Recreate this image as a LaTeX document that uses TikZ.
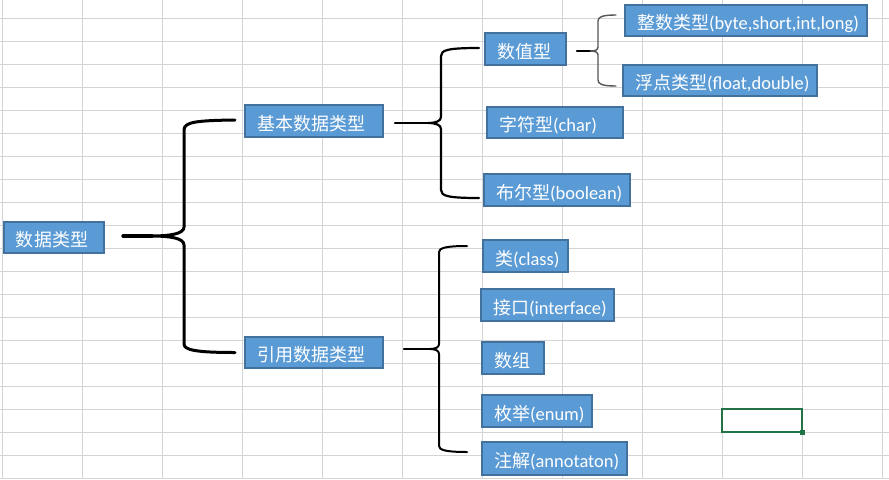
\documentclass[tikz,border=0pt]{standalone}
\usepackage{fontspec}
\setmainfont{Carlito}
\newfontfamily\cjk[Scale=0.975]{Noto Sans CJK SC}
\usetikzlibrary{calc}
\newlength\pxu \setlength\pxu{0.75pt}
\newcommand\boxtxt[2]{\makebox[#1\pxu][l]{#2}}
\definecolor{boxfill}{HTML}{5B9BD5}
\definecolor{boxline}{HTML}{41719C}
\definecolor{gridc}{HTML}{D4D4D4}
\definecolor{selc}{HTML}{217346}
\definecolor{thinbrace}{HTML}{555555}
\begin{document}
\begin{tikzpicture}[x=1\pxu,y=-1\pxu,
  box/.style={draw=boxline, fill=boxfill, line width=2\pxu, inner xsep=12\pxu, inner ysep=0pt,
    text=white, font=\fontsize{13.85}{16}\selectfont, anchor=center,
    text height=18\pxu, text depth=0pt},
  gridline/.style={draw=gridc, line width=1\pxu},
  brc/.style={draw=black, line cap=round, line join=round}]
\useasboundingbox (0,0) rectangle (889,479);
\fill[white] (0,0) rectangle (889,479);
\foreach \i in {0,...,11} \draw[gridline] (2+80*\i,0) -- (2+80*\i,479);
\foreach \j in {0,...,20} \draw[gridline] (0,18+23*\j) -- (889,18+23*\j);

% boxes
\node[box, minimum width=100\pxu, minimum height=31\pxu] (dt) at (54,237.5) {\boxtxt{76}{\cjk 数据类型}};
\node[box, minimum width=138\pxu, minimum height=32\pxu] (jb) at (314,121) {\boxtxt{114}{\cjk 基本数据类型}};
\node[box, minimum width=138\pxu, minimum height=31\pxu] (yy) at (314,352.5) {\boxtxt{114}{\cjk 引用数据类型}};
\node[box, minimum width=81\pxu, minimum height=32\pxu] (sz) at (525.5,49) {\boxtxt{57}{\cjk 数值型}};
\node[box, minimum width=242\pxu, minimum height=31\pxu] (zs) at (746,20.5) {\boxtxt{218}{{\cjk 整数类型}(byte,short,int,long)}};
\node[box, minimum width=194\pxu, minimum height=31\pxu] (fd) at (720,80.5) {\boxtxt{170}{{\cjk 浮点类型}(float,double)}};
\node[box, minimum width=136\pxu, minimum height=31\pxu] (zf) at (555,122.5) {\boxtxt{112}{{\cjk 字符型}(char)}};
\node[box, minimum width=146\pxu, minimum height=32\pxu] (be) at (557,190) {\boxtxt{122}{{\cjk 布尔型}(boolean)}};
\node[box, minimum width=85\pxu, minimum height=32\pxu] (cl) at (525.5,256) {\boxtxt{61}{{\cjk 类}(class)}};
\node[box, minimum width=133\pxu, minimum height=32\pxu] (jk) at (547.5,305) {\boxtxt{109}{{\cjk 接口}(interface)}};
\node[box, minimum width=62\pxu, minimum height=32\pxu] (sg) at (513,358) {\boxtxt{38}{\cjk 数组}};
\node[box, minimum width=110\pxu, minimum height=32\pxu] (mj) at (537,411) {\boxtxt{86}{{\cjk 枚举}(enum)}};
\node[box, minimum width=145\pxu, minimum height=33\pxu] (zj) at (554.5,458.5) {\boxtxt{121}{{\cjk 注解}(annotaton)}};

% brace 1: 数据类型 -> 基本 / 引用
\draw[brc, line width=3.4\pxu] ($(dt.east)+(18,-1.5)$) -- (152,236);
\draw[brc, line width=3\pxu] ($(jb.west)+(-9,-1)$) .. controls (196,120.5) and (184,122) .. (184,130)
  -- (184,227) .. controls (184,234) and (170,236) .. (150,236)
  .. controls (170,236) and (184,238) .. (184,245)
  -- (184,344) .. controls (184,350) and (196,352.5) .. ($(yy.west)+(-9,0)$);

% brace 2: 基本数据类型 -> 数值型 / 字符型 / 布尔型
\draw[brc, line width=2.6\pxu] ($(jb.east)+(11,2)$) -- (430,123);
\draw[brc, line width=2.2\pxu] ($(sz.west)+(-5,-1)$) .. controls (448,48) and (441,50) .. (441,56)
  -- (441,117) .. controls (441,121) and (436,123) .. (428,123)
  .. controls (436,123) and (441,125) .. (441,129)
  -- (441,190) .. controls (441,196) and (448,198) .. ($(be.west)+(-4,8)$);

% brace 3: 数值型 -> 整数类型 / 浮点类型
\draw[brc, line width=2.4\pxu] ($(sz.east)+(10,2)$) -- (591,51);
\draw[brc, draw=thinbrace, line width=1.4\pxu] ($(zs.west)+(-8,-5.5)$) .. controls (602,15) and (598,17) .. (598,21)
  -- (598,47) .. controls (598,50) and (595,51) .. (590,51)
  .. controls (595,51) and (598,52) .. (598,55)
  -- (598,80) .. controls (598,84) and (602,86) .. ($(fd.west)+(-6,5.5)$);

% brace 4: 引用数据类型 -> 类 / 接口 / 数组 / 枚举 / 注解
\draw[brc, line width=2.4\pxu] ($(yy.east)+(20,-3.5)$) -- (431,349);
\draw[brc, line width=2\pxu] ($(cl.west)+(-15,-10)$) .. controls (446,246) and (439,248) .. (439,252)
  -- (439,344) .. controls (439,347) and (436,349) .. (430,349)
  .. controls (436,349) and (439,351) .. (439,354)
  -- (439,446) .. controls (439,450) and (446,452) .. ($(zj.west)+(-14,-6.5)$);

% selected cell
\draw[draw=selc, line width=2\pxu] (722,409) rectangle (802,432);
\fill[selc] (799.5,429.5) rectangle (805,435);
\end{tikzpicture}
\end{document}
